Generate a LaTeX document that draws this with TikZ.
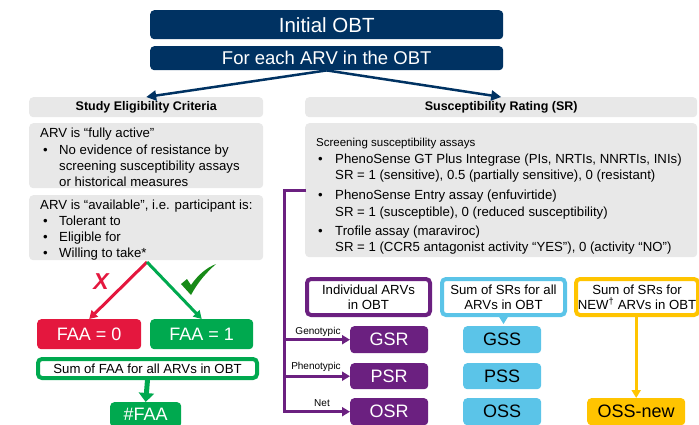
\documentclass[tikz,border=0pt]{standalone}
\usepackage{fontspec}
\setmainfont{Liberation Sans}
\usetikzlibrary{arrows.meta}
\definecolor{navy}{HTML}{003262}
\definecolor{boxgray}{HTML}{E8E8E8}
\definecolor{purp}{HTML}{6B2080}
\definecolor{skyb}{HTML}{5BC4E8}
\definecolor{yel}{HTML}{FFC400}
\definecolor{redc}{HTML}{E4173E}
\definecolor{grn}{HTML}{00A94F}
\definecolor{chk}{HTML}{178A17}
\begin{document}
\begin{tikzpicture}[x=1pt,y=-1pt,
  boxbase/.style={anchor=north west, inner sep=0pt, rounded corners=4pt},
  navybox/.style={boxbase, fill=navy, text=white},
  graybox/.style={boxbase, fill=boxgray},
  hdr/.style={graybox, font=\fontsize{12.5}{15}\selectfont\bfseries},
  solidbox/.style={boxbase, font=\fontsize{18}{20}\selectfont},
  framebox/.style={boxbase, fill=white, line width=4pt, align=center, font=\fontsize{13.2}{15}\selectfont},
  txt/.style={anchor=base west, inner sep=0pt, font=\fontsize{13.2}{16}\selectfont},
  smalltxt/.style={anchor=base west, inner sep=0pt, font=\fontsize{11.5}{14}\selectfont},
  lbl/.style={inner sep=0pt, font=\fontsize{10}{11}\selectfont},
  navyarrow/.style={draw=navy, line width=2.5pt, -{Triangle[length=10pt,width=10pt]}},
  purparrow/.style={draw=purp, line width=3pt, -{Triangle[length=8pt,width=9pt]}},
  colarrow/.style={line width=3pt, -{Triangle[length=8pt,width=9pt]}}
]
\useasboundingbox (0,0) rectangle (699,424);
\clip (0,0) rectangle (699,424);

% top boxes
\node[navybox, minimum width=353pt, minimum height=29pt, font=\fontsize{20.5}{22}\selectfont] (init) at (150,10) {Initial OBT};
\node[navybox, minimum width=353pt, minimum height=24pt, font=\fontsize{18.5}{20}\selectfont] (each) at (150,46) {For each ARV in the OBT};

% headers
\node[hdr, minimum width=234pt, minimum height=20pt] (hdrL) at (29,97) {Study Eligibility Criteria};
\node[hdr, minimum width=392pt, minimum height=20pt] (hdrR) at (305,97) {Susceptibility Rating (SR)};
\draw[navyarrow] (each.south) -- (hdrL.north);
\draw[navyarrow] (each.south) -- (hdrR.north);

% left gray boxes
\node[graybox, minimum width=234pt, minimum height=65pt] (boxA) at (29,123) {};
\node[graybox, minimum width=234pt, minimum height=65pt] (boxB) at (29,195) {};
\node[txt] (a0) at (40,137.5) {ARV is “fully active”};
\node[txt] (a1b) at (43,154.5) {•};
\node[txt] (a1) at (59,154.5) {No evidence of resistance by};
\node[txt] (a2) at (59,170.5) {screening susceptibility assays};
\node[txt] (a3) at (59,186.5) {or historical measures};
\node[txt] (b0) at (40,209.5) {ARV is “available”, i.e. participant is:};
\node[txt] (b1b) at (43,225.5) {•};
\node[txt] (b1) at (59,225.5) {Tolerant to};
\node[txt] (b2b) at (43,241.5) {•};
\node[txt] (b2) at (59,241.5) {Eligible for};
\node[txt] (b3b) at (43,257.5) {•};
\node[txt] (b3) at (59,257.5) {Willing to take*};

% right gray box
\node[graybox, minimum width=392pt, minimum height=134pt] (boxS) at (305,123) {};
\node[smalltxt] (s0) at (316,146) {Screening susceptibility assays};
\node[txt] (s1b) at (318,163.5) {•};
\node[txt] (s1) at (335,163.5) {PhenoSense GT Plus Integrase (PIs, NRTIs, NNRTIs, INIs)};
\node[txt] (s2) at (335,179.5) {SR = 1 (sensitive), 0.5 (partially sensitive), 0 (resistant)};
\node[txt] (s3b) at (318,199.5) {•};
\node[txt] (s3) at (335,199.5) {PhenoSense Entry assay (enfuvirtide)};
\node[txt] (s4) at (335,216.5) {SR = 1 (susceptible), 0 (reduced susceptibility)};
\node[txt] (s5b) at (318,235.5) {•};
\node[txt] (s5) at (335,235.5) {Trofile assay (maraviroc)};
\node[txt] (s6) at (335,251.5) {SR = 1 (CCR5 antagonist activity “YES”), 0 (activity “NO”)};

% left decision
\coordinate (apex) at (147,262);
\node[solidbox, fill=redc, text=white, minimum width=104pt, minimum height=30pt] (faa0) at (37,319) {FAA = 0};
\node[solidbox, fill=grn, text=white, minimum width=103pt, minimum height=30pt] (faa1) at (150,319) {FAA = 1};
\draw[colarrow, draw=redc] (apex) -- (faa0.north);
\draw[colarrow, draw=grn] (apex) -- (faa1.north);
\node[inner sep=0pt, text=redc, font=\fontsize{23}{24}\selectfont\bfseries\itshape] (xmark) at (101,282) {X};
\fill[chk] (181,284) -- (187,279) -- (191,285) .. controls (198,275) and (206,268) .. (216,264)
  .. controls (206,273) and (198,282) .. (191,295) -- cycle;
\node[framebox, draw=grn, minimum width=219pt, minimum height=19pt] (sumfaa) at (36,357) {Sum of FAA for all ARVs in OBT};
\node[solidbox, fill=grn, text=white, minimum width=71pt, minimum height=25pt] (nfaa) at (110,402) {\#FAA};
\draw[draw=grn, line width=5pt, -{Triangle[length=9pt,width=15pt]}] (sumfaa.south) -- (nfaa.north);

% right lower part
\node[framebox, draw=purp, minimum width=123pt, minimum height=36pt] (indiv) at (305,277) {Individual ARVs\\in OBT};
\node[framebox, draw=skyb, minimum width=123pt, minimum height=36pt] (sumall) at (440,277) {Sum of SRs for all\\ARVs in OBT};
\node[framebox, draw=yel, minimum width=122pt, minimum height=36pt] (sumnew) at (574,277) {Sum of SRs for\\NEW\textsuperscript{†} ARVs in OBT};
\fill[skyb] ([xshift=-5pt,yshift=1pt]sumall.south) -- ([xshift=5pt,yshift=1pt]sumall.south) -- ([yshift=-7pt]sumall.south) -- cycle;

\node[solidbox, fill=purp, text=white, minimum width=78pt, minimum height=27pt] (gsr) at (350,326) {GSR};
\node[solidbox, fill=purp, text=white, minimum width=78pt, minimum height=26pt] (psr) at (350,363) {PSR};
\node[solidbox, fill=purp, text=white, minimum width=78pt, minimum height=27pt] (osr) at (350,398) {OSR};
\node[solidbox, fill=skyb, minimum width=78pt, minimum height=27pt] (gss) at (463,326) {GSS};
\node[solidbox, fill=skyb, minimum width=78pt, minimum height=26pt] (pss) at (463,363) {PSS};
\node[solidbox, fill=skyb, minimum width=78pt, minimum height=27pt] (oss) at (463,398) {OSS};
\node[solidbox, fill=yel, minimum width=98pt, minimum height=27pt] (ossnew) at (587,398) {OSS-new};

\coordinate (pstart) at (306,190);
\coordinate (ptop) at (284,190);
\draw[purparrow] (pstart) -- (ptop) -- (ptop |- osr.west) -- (osr.west);
\draw[purparrow] (ptop |- gsr.west) -- (gsr.west);
\draw[purparrow] (ptop |- psr.west) -- (psr.west);
\node[lbl] (lgen) at (318,332) {Genotypic};
\node[lbl] (lphe) at (316,367) {Phenotypic};
\node[lbl] (lnet) at (322,403) {Net};

\draw[colarrow, draw=yel] (ossnew.north |- sumnew.south) -- (ossnew.north);
\end{tikzpicture}
\end{document}
